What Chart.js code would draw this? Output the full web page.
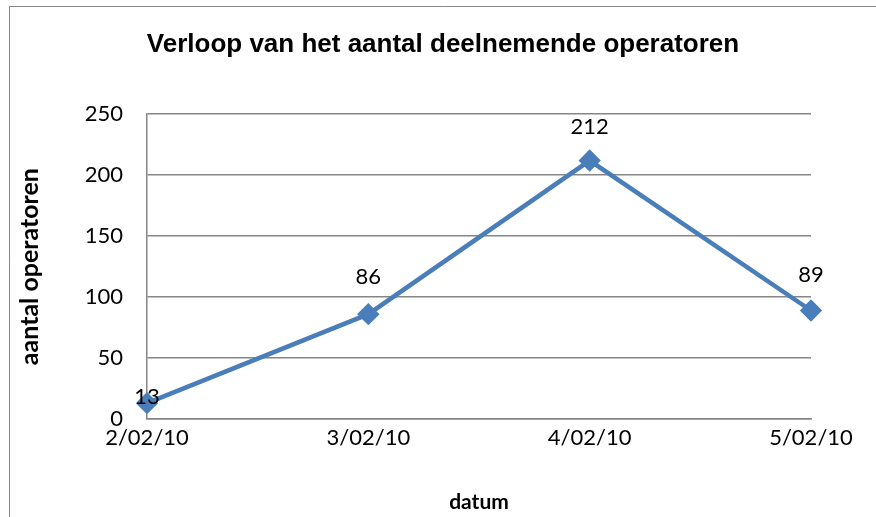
<!DOCTYPE html>
<html>
<head>
<meta charset="utf-8">
<style>
  html, body { margin: 0; padding: 0; background: #fff; }
  #wrap { width: 876px; height: 517px; }
</style>
</head>
<body>
<div id="wrap"><canvas id="lineChart" width="876" height="517"></canvas></div>

<script src="https://cdn.jsdelivr.net/npm/chart.js"></script>

<script>
  // data
  const dates = ['2/02/10', '3/02/10', '4/02/10', '5/02/10'];
  const operators = [13, 86, 212, 89];

  const blue = '#4A7EBB';
  const grey = '#868686';

  // frame around the chart (only left and top visible in the reference)
  const framePlugin = {
    id: 'frame',
    beforeDraw(chart) {
      const c = chart.ctx;
      c.save();
      c.strokeStyle = grey;
      c.lineWidth = 1;
      c.beginPath();
      c.moveTo(9.5, chart.height + 5);
      c.lineTo(9.5, 6.5);
      c.lineTo(chart.width + 5, 6.5);
      c.stroke();
      c.restore();
    }
  };

  // value labels above the markers
  const valueLabels = {
    id: 'valueLabels',
    afterDatasetsDraw(chart, args, opts) {
      const c = chart.ctx;
      const meta = chart.getDatasetMeta(0);
      c.save();
      c.font = opts.font;
      c.fillStyle = '#000';
      c.textAlign = 'center';
      c.textBaseline = 'middle';
      meta.data.forEach((pt, i) => {
        const off = opts.offsets[i];
        c.fillText(String(operators[i]), pt.x, pt.y - off);
      });
      c.restore();
    }
  };

  new Chart(document.getElementById('lineChart').getContext('2d'), {
    type: 'line',
    data: {
      labels: dates,
      datasets: [{
        label: 'aantal operatoren',
        data: operators,
        borderColor: blue,
        backgroundColor: blue,
        borderWidth: 4.5,
        pointStyle: 'rectRot',
        pointRadius: 8,
        pointHoverRadius: 8,
        tension: 0
      }]
    },
    options: {
      responsive: false,
      animation: false,
      layout: { padding: { left: 10, right: 0, top: 0, bottom: 0 } },
      plugins: {
        legend: { display: false },
        tooltip: { enabled: false },
        title: {
          display: true,
          text: 'Verloop van het aantal deelnemende operatoren',
          color: '#000',
          font: { family: 'Liberation Sans', size: 26, weight: 'bold' },
          padding: { top: 29, bottom: 54 }
        },
        valueLabels: {
          font: '22px Lato',
          offsets: [6, 37, 34, 36]
        }
      },
      scales: {
        x: {
          offset: false,
          grid: { display: false, drawTicks: false },
          border: { color: grey, width: 1.5 },
          ticks: { color: '#000', font: { family: 'Lato', size: 22 }, padding: 6, maxRotation: 0 },
          title: {
            display: true, text: 'datum', color: '#000',
            font: { family: 'Lato', size: 21, weight: 'bold' },
            padding: { top: 18, bottom: 2 }
          },
          afterFit(s) { s.height = 98; }
        },
        y: {
          min: 0, max: 250,
          ticks: { stepSize: 50, color: '#000', font: { family: 'Lato', size: 22 }, padding: 24 },
          grid: { color: grey, lineWidth: 1.5, drawTicks: false },
          border: { color: grey, width: 1.5 },
          title: {
            display: true, text: 'aantal operatoren', color: '#000',
            font: { family: 'Lato', size: 25, weight: 'bold' },
            padding: { top: 5, bottom: 0 }
          },
          afterFit(s) { s.width = 137; }
        },
        // empty axis on the right, keeps the plot area clear of the edge
        yRight: {
          position: 'right',
          display: true,
          grid: { display: false, drawTicks: false },
          border: { display: false },
          ticks: { display: false },
          afterFit(s) { s.width = 65; }
        }
      }
    },
    plugins: [framePlugin, valueLabels]
  });
</script>
</body>
</html>
